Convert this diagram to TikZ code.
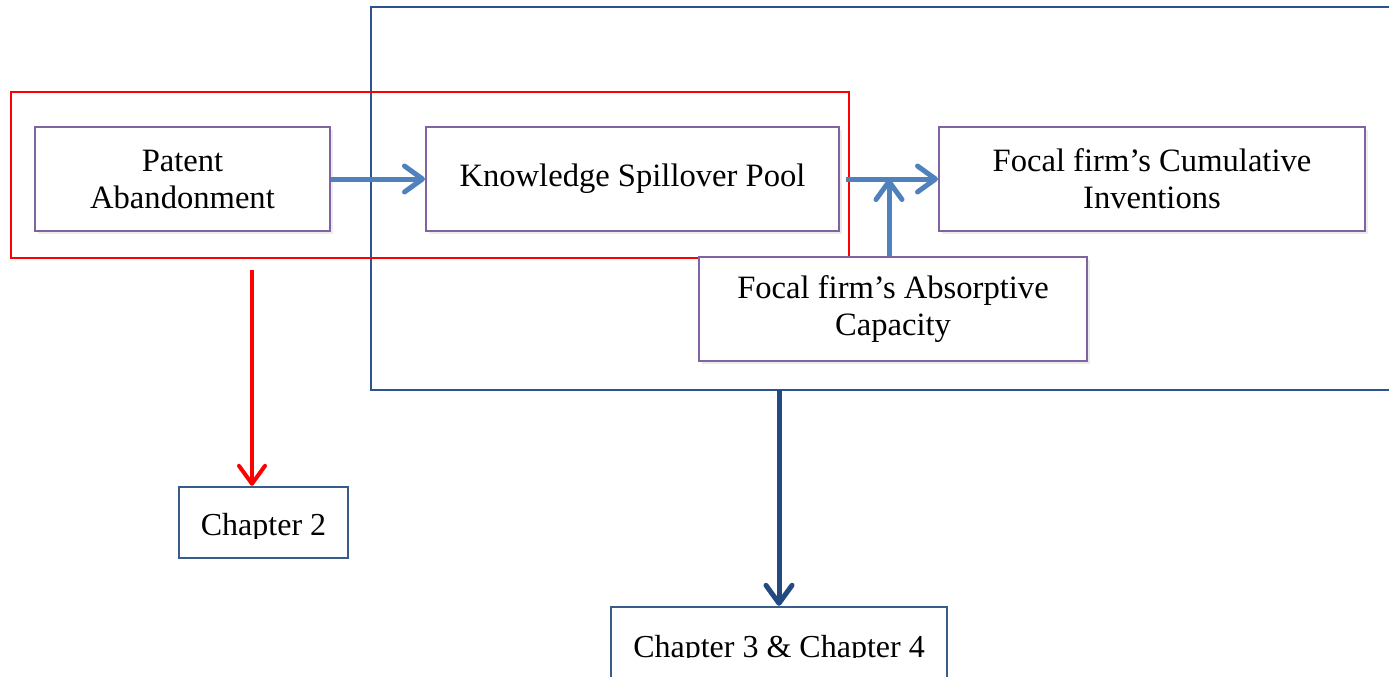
\documentclass[tikz,border=0pt]{standalone}
\usepackage{fontspec}
\setmainfont{Liberation Serif}
\usepackage{tikz}
\usetikzlibrary{arrows.meta,shadows}

\definecolor{boxpurple}{HTML}{8064A2}
\definecolor{arrblue}{HTML}{4F81BD}
\definecolor{framblue}{HTML}{2E528F}
\definecolor{chapblue}{HTML}{385D8A}
\definecolor{arrdark}{HTML}{234A80}
\definecolor{framred}{HTML}{FF0000}

\begin{document}
\begin{tikzpicture}[x=0.5pt,y=-0.5pt]
    \useasboundingbox (0,0) rectangle (1389,676);

    \tikzset{conbox/.style={draw=boxpurple,line width=1pt,fill=white,inner sep=0pt,align=center,
            drop shadow={shadow xshift=1.5pt,shadow yshift=-1.5pt,opacity=0.15},
            font=\fontsize{16.3}{18.5}\selectfont}}
    \tikzset{chapbox/.style={draw=chapblue,line width=1.2pt,fill=white,inner sep=0pt}}
    \tikzset{chaptext/.style={inner sep=0pt,yshift=-2.5pt,font=\fontsize{16}{19}\selectfont}}
    \tikzset{barb/.style={-{Straight Barb[round,length=9pt,width=13pt]}}}
    \tikzset{flow/.style={draw=arrblue,line width=2.5pt,barb}}

    % frames
    \draw[framblue,line width=1pt] (371,7) rectangle (1400,390);
    \draw[framred,line width=1pt] (11,92) rectangle (849,258);

    \node[conbox,minimum width=147.5pt,minimum height=52pt] (abandon) at (182.5,179) {Patent\\Abandonment};
    \node[conbox,minimum width=206.5pt,minimum height=52pt] (pool) at (632.5,179) {Knowledge Spillover Pool};
    \node[conbox,minimum width=213pt,minimum height=52pt] (invent) at (1152,179) {Focal firm’s Cumulative\\Inventions};
    \node[conbox,minimum width=194pt,minimum height=52pt] (absorb) at (893,309) {Focal firm’s Absorptive\\Capacity};

    \node[chapbox,minimum width=84.5pt,minimum height=35.5pt] (chtwo) at (263.5,522.5) {};
    \node[chapbox,minimum width=168pt,minimum height=38pt] (chthree) at (779,645) {};
    \begin{scope}
        \clip (chtwo.north west) rectangle (chtwo.east |- 0,538);
        \node[chaptext] (chtwotext) at (chtwo) {Chapter 2};
    \end{scope}
    \begin{scope}
        \clip (chthree.north west) rectangle (chthree.east |- 0,657);
        \node[chaptext] (chthreetext) at (chthree) {Chapter 3 \& Chapter 4};
    \end{scope}

    \draw[flow] (abandon.east) -- (pool.west);
    \draw[flow,shorten <=3pt] (pool.east) -- (invent.west);
    \draw[flow] (absorb.north -| 889,0) -- (889,0 |- pool.east);

    \coordinate (redfoot) at (252,270);
    \coordinate (bluefoot) at (779,390);
    \draw[framred,line width=2pt,barb] (redfoot) -- (redfoot |- chtwo.north);
    \draw[arrdark,line width=2.5pt,barb] (bluefoot) -- (chthree.north);
\end{tikzpicture}
\end{document}
